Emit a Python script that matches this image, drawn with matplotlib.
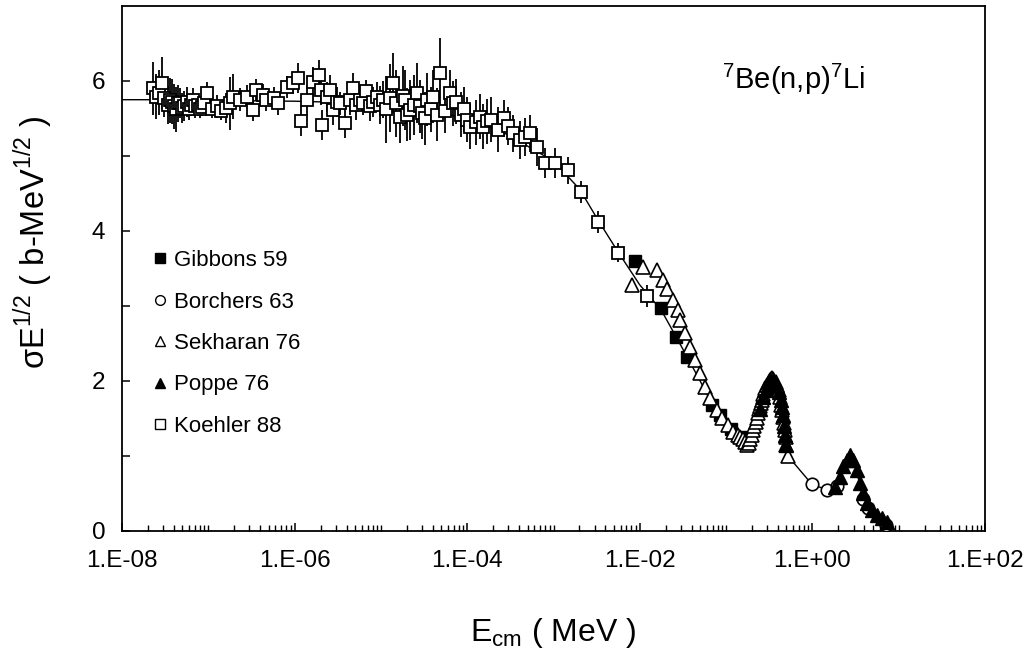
import matplotlib.pyplot as plt
from matplotlib.lines import Line2D
from matplotlib.ticker import LogLocator, NullFormatter

plt.rcParams['font.family'] = ['Liberation Sans', 'DejaVu Sans']
plt.rcParams['mathtext.fontset'] = 'custom'
plt.rcParams['mathtext.rm'] = 'Liberation Sans'

# Koehler 88 (open squares with error bars)
koehler_e = [2.3e-8, 2.5e-8, 2.7e-8, 2.9e-8, 3.1e-8, 3.4e-8, 3.6e-8, 3.8e-8, 4.0e-8, 4.2e-8,
             4.5e-8, 4.7e-8, 5.0e-8, 5.2e-8, 5.6e-8, 6.0e-8, 6.3e-8, 6.7e-8, 7.1e-8, 7.5e-8,
             8.0e-8, 8.5e-8, 9.0e-8, 9.6e-8, 1.1e-7, 1.25e-7, 1.4e-7, 1.6e-7, 1.78e-7, 1.95e-7,
             2.3e-7, 2.8e-7, 3.3e-7, 3.6e-7, 4.3e-7, 4.7e-7, 5.7e-7, 6.5e-7, 8.1e-7, 9.7e-7,
             1.1e-6, 1.2e-6, 1.4e-6, 1.65e-6, 1.9e-6, 2.0e-6, 2.1e-6, 2.35e-6, 2.6e-6, 2.8e-6,
             3.1e-6, 3.4e-6, 3.8e-6, 4.4e-6, 4.8e-6, 5.2e-6, 5.7e-6, 6.2e-6, 6.8e-6, 7.5e-6,
             8.2e-6, 8.9e-6, 9.7e-6, 1.07e-5, 1.15e-5, 1.27e-5, 1.39e-5, 1.5e-5, 1.66e-5, 1.8e-5,
             1.9e-5, 2.0e-5, 2.17e-5, 2.4e-5, 2.6e-5, 2.8e-5, 3.0e-5, 3.2e-5, 3.4e-5, 3.8e-5,
             4.05e-5, 4.5e-5, 4.8e-5, 5.5e-5, 6.3e-5, 6.9e-5, 7.5e-5, 8.5e-5, 9.2e-5, 9.9e-5,
             1.08e-4, 1.25e-4, 1.4e-4, 1.54e-4, 1.7e-4, 1.9e-4, 2.3e-4, 2.7e-4, 3.0e-4, 3.4e-4,
             4.1e-4, 4.7e-4, 5.3e-4, 6.4e-4, 8.0e-4, 1.05e-3, 1.48e-3, 2.1e-3, 3.3e-3, 5.6e-3,
             1.2e-2]
koehler_v = [5.90, 5.79, 5.84, 5.97, 5.77, 5.68, 5.74, 5.72, 5.66, 5.62,
             5.70, 5.70, 5.64, 5.66, 5.72, 5.63, 5.68, 5.75, 5.66, 5.68,
             5.63, 5.65, 5.70, 5.84, 5.62, 5.66, 5.60, 5.64, 5.70, 5.79,
             5.75, 5.79, 5.61, 5.88, 5.81, 5.75, 5.77, 5.70, 5.92, 5.97,
             6.04, 5.46, 5.75, 5.99, 6.08, 5.88, 5.41, 5.79, 5.88, 5.61,
             5.72, 5.70, 5.44, 5.75, 5.90, 5.68, 5.75, 5.70, 5.86, 5.66,
             5.72, 5.79, 5.68, 5.75, 5.62, 5.77, 5.97, 5.70, 5.52, 5.80,
             5.75, 5.55, 5.61, 5.68, 5.84, 5.66, 5.57, 5.50, 5.75, 5.62,
             5.79, 5.55, 6.10, 5.60, 5.84, 5.70, 5.72, 5.55, 5.62, 5.48,
             5.39, 5.45, 5.52, 5.39, 5.46, 5.48, 5.35, 5.50, 5.40, 5.30,
             5.21, 5.25, 5.30, 5.12, 4.90, 4.91, 4.81, 4.52, 4.12, 3.71,
             3.13]
koehler_err = [0.35, 0.30, 0.30, 0.35, 0.25, 0.25, 0.30, 0.30, 0.30, 0.30,
               0.25, 0.20, 0.20, 0.20, 0.20, 0.15, 0.15, 0.15, 0.15, 0.15,
               0.12, 0.12, 0.12, 0.15, 0.12, 0.15, 0.12, 0.20, 0.35, 0.30,
               0.15, 0.15, 0.15, 0.15, 0.15, 0.15, 0.15, 0.15, 0.15, 0.15,
               0.20, 0.20, 0.20, 0.20, 0.20, 0.20, 0.20, 0.20, 0.20, 0.20,
               0.20, 0.15, 0.20, 0.20, 0.20, 0.20, 0.15, 0.15, 0.15, 0.20,
               0.20, 0.20, 0.25, 0.25, 0.45, 0.45, 0.40, 0.45, 0.35, 0.40,
               0.40, 0.35, 0.40, 0.40, 0.40, 0.35, 0.35, 0.35, 0.35, 0.30,
               0.35, 0.35, 0.47, 0.30, 0.30, 0.30, 0.30, 0.30, 0.30, 0.30,
               0.30, 0.30, 0.30, 0.30, 0.30, 0.30, 0.30, 0.25, 0.25, 0.25,
               0.25, 0.25, 0.25, 0.25, 0.20, 0.20, 0.18, 0.15, 0.15, 0.13,
               0.15]

# Gibbons 59 (filled squares)
gibbons_e = [8.8e-3, 1.76e-2, 2.6e-2, 3.5e-2, 6.9e-2, 8.5e-2, 0.115, 0.15]
gibbons_v = [3.60, 2.97, 2.59, 2.32, 1.68, 1.55, 1.36, 1.25]

# Borchers 63 (open circles)
borchers_e = [0.99, 1.48, 1.93, 3.9, 4.4, 7.2]
borchers_v = [0.62, 0.55, 0.60, 0.42, 0.30, 0.08]

# Sekharan 76 (open triangles)
sekharan_e = [8.1e-3, 1.09e-2, 1.58e-2, 1.86e-2, 2.07e-2, 2.43e-2, 2.77e-2, 2.92e-2, 3.34e-2, 3.8e-2,
              4.4e-2, 5.0e-2, 5.7e-2, 6.5e-2, 7.8e-2, 9.0e-2, 0.105, 0.12, 0.138, 0.145,
              0.155, 0.165, 0.175, 0.183, 0.19, 0.198, 0.205, 0.212, 0.22, 0.227,
              0.234, 0.241, 0.248, 0.254, 0.26, 0.265, 0.27, 0.28, 0.285, 0.30,
              0.31, 0.32, 0.33, 0.34, 0.35, 0.36, 0.375, 0.39, 0.405, 0.42,
              0.435, 0.45, 0.46, 0.47, 0.48, 0.49, 0.50, 0.52]
sekharan_v = [3.28, 3.52, 3.48, 3.35, 3.23, 3.08, 2.95, 2.81, 2.64, 2.45,
              2.28, 2.11, 1.92, 1.77, 1.61, 1.51, 1.41, 1.32, 1.28, 1.25,
              1.22, 1.18, 1.15, 1.17, 1.22, 1.28, 1.35, 1.40, 1.45, 1.51,
              1.57, 1.62, 1.66, 1.70, 1.75, 1.79, 1.82, 1.88, 1.91, 1.95,
              1.98, 2.01, 2.03, 2.04, 2.03, 2.00, 1.98, 1.95, 1.88, 1.79,
              1.68, 1.61, 1.52, 1.44, 1.35, 1.25, 1.15, 1.00]

# Poppe 76 (filled triangles)
poppe_e = [0.25, 0.27, 0.29, 0.31, 0.33, 0.35, 0.37, 0.39, 0.41, 0.43,
           0.44, 0.455, 0.47, 0.485, 0.50,
           1.83, 2.09, 2.26, 2.5, 2.73, 2.95, 3.29, 3.55, 3.86, 4.3,
           4.9, 5.6, 6.4, 7.3]
poppe_v = [1.62, 1.78, 1.88, 1.96, 2.00, 2.00, 1.98, 1.93, 1.85, 1.75,
           1.65, 1.55, 1.40, 1.28, 1.15,
           0.59, 0.72, 0.86, 0.95, 1.01, 0.95, 0.81, 0.64, 0.51, 0.37,
           0.28, 0.21, 0.17, 0.12]

# fitted curve
fit_e = [1e-8, 3e-8, 1e-7, 1e-6, 1e-5, 3e-5, 1e-4, 3e-4, 1e-3, 2e-3,
         3.3e-3, 5.6e-3, 1e-2, 1.76e-2, 2.6e-2, 3.5e-2, 5e-2, 7e-2, 0.1, 0.14,
         0.175, 0.21, 0.26, 0.30, 0.34, 0.39, 0.44, 0.48, 0.52, 0.99,
         1.48, 1.93, 2.3, 2.73, 3.0, 3.5, 4.3, 5.5, 7.3]
fit_v = [5.75, 5.75, 5.74, 5.73, 5.70, 5.63, 5.50, 5.28, 4.93, 4.56,
         4.14, 3.72, 3.28, 2.95, 2.60, 2.33, 2.00, 1.68, 1.42, 1.26,
         1.18, 1.30, 1.70, 1.95, 2.02, 1.90, 1.58, 1.22, 1.00, 0.62,
         0.55, 0.62, 0.85, 0.98, 0.93, 0.65, 0.38, 0.22, 0.10]

x_ticks = [1e-8, 1e-6, 1e-4, 1e-2, 1e0, 1e2]
x_labels = ['1.E-08', '1.E-06', '1.E-04', '1.E-02', '1.E+00', '1.E+02']

fig = plt.figure(figsize=(10.35, 6.54), dpi=100)
ax = fig.add_axes([0.1179, 0.1881, 0.8338, 0.8028])

ax.plot(fit_e, fit_v, color='black', lw=1.0, zorder=1)
ax.errorbar(koehler_e, koehler_v, yerr=koehler_err, fmt='s', mfc='white', mec='black',
            ms=8.5, mew=1.3, ecolor='black', elinewidth=1.3, capsize=0, zorder=2)
ax.plot(gibbons_e, gibbons_v, 's', color='black', ms=8.5, zorder=3)
ax.plot(borchers_e, borchers_v, 'o', mfc='white', mec='black', ms=9, mew=1.2, zorder=3)
ax.plot(sekharan_e, sekharan_v, '^', mfc='white', mec='black', ms=9.5, mew=1.2, zorder=4)
ax.plot(poppe_e, poppe_v, '^', color='black', ms=9.5, zorder=4)

ax.set_xscale('log')
ax.set_xlim(1e-8, 1e2)
ax.set_ylim(0, 7)
ax.set_xticks(x_ticks)
ax.set_xticklabels(x_labels)
ax.xaxis.set_minor_locator(LogLocator(base=10, subs=range(1, 10), numticks=100))
ax.xaxis.set_minor_formatter(NullFormatter())
ax.set_yticks([0, 1, 2, 3, 4, 5, 6])
ax.set_yticklabels(['0', '', '2', '', '4', '', '6'])

ax.tick_params(which='major', direction='in', length=6, width=1.1, labelsize=17.5)
ax.tick_params(which='minor', direction='in', length=4, width=1.0)
ax.tick_params(axis='x', which='major', pad=14)
ax.tick_params(axis='y', which='major', pad=12)
for s in ax.spines.values():
    s.set_linewidth(1.3)

ax.set_xlabel(r'E$_{\mathregular{cm}}$ ( MeV )', fontsize=23, va='center')
ax.xaxis.set_label_coords(0.5, -0.194)
ax.set_ylabel(r'σE$^{\mathregular{1/2}}$ ( b-MeV$^{\mathregular{1/2}}$ )', fontsize=23.5)
ax.yaxis.set_label_coords(-0.078, 0.55)

ax.text(0.695, 0.86, r'$^{\mathregular{7}}$Be(n,p)$^{\mathregular{7}}$Li', transform=ax.transAxes,
        fontsize=21, va='center', ha='left')

handles = [
    Line2D([], [], ls='none', marker='s', color='black', ms=7),
    Line2D([], [], ls='none', marker='o', mfc='white', mec='black', ms=7),
    Line2D([], [], ls='none', marker='^', mfc='white', mec='black', ms=7),
    Line2D([], [], ls='none', marker='^', color='black', ms=7),
    Line2D([], [], ls='none', marker='s', mfc='white', mec='black', ms=7),
]
labels = ['Gibbons 59', 'Borchers 63', 'Sekharan 76', 'Poppe 76', 'Koehler 88']
ax.legend(handles, labels, loc='upper left', bbox_to_anchor=(0.035, 0.535), frameon=False,
          fontsize=16, handlelength=0.7, handletextpad=0.3, labelspacing=0.92,
          borderaxespad=0, borderpad=0)

fig.savefig('out.png', dpi=100)
